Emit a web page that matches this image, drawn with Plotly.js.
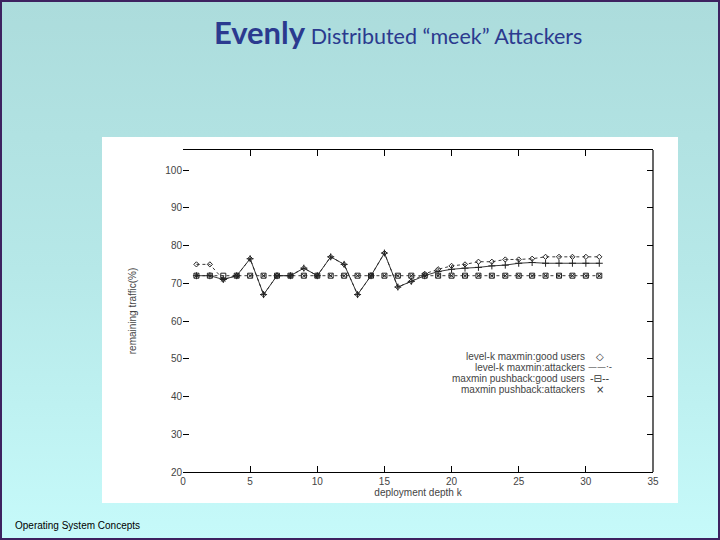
<!DOCTYPE html>
<html>
<head>
<meta charset="utf-8">
<script src="https://cdn.plot.ly/plotly-3.0.1.min.js"></script>
<style>
html,body{margin:0;padding:0;}
#wrap{width:720px;height:540px;box-sizing:border-box;border:2px solid #3d2260;
background:linear-gradient(to bottom,#acdcdc 0%,#b6e8e8 50%,#c6fafa 100%);position:relative;overflow:hidden;}
#chart{position:absolute;left:-2px;top:-2px;width:720px;height:540px;}
</style>
</head>
<body>
<div id="wrap"><div id="chart"></div></div>
<script>
const depth = [1,2,3,4,5,6,7,8,9,10,11,12,13,14,15,16,17,18,19,20,21,22,23,24,25,26,27,28,29,30,31];
const levelkGood = [75,75,71,72,76.5,67,72,72,74,72,77,75,67,72,78,69,70.5,72.5,73.7,74.6,75,75.7,75.7,76.3,76.3,76.5,77,77,77,77,77];
const levelkAttack = [72,72,71,72,76.5,67,72,72,74,72,77,75,67,72,78,69,70.5,72,73.1,73.7,74,74.2,74.6,74.8,75.3,75.5,75.3,75.3,75.3,75.3,75.3];
const pushbackGood = [72,72,72,72,72,72,72,72,72,72,72,72,72,72,72,72,72,72,72,72,72,72,72,72,72,72,72,72,72,72,72];
const pushbackAttack = [72,72,71,72,72,72,72,72,72,72,72,72,72,72,72,72,72,72,72,72,72,72,72,72,72,72,72,72,72,72,72];
const seriesNames = ['level-k maxmin:good users','level-k maxmin:attackers','maxmin pushback:good users','maxmin pushback:attackers'];
const legendSamples = ['◇','——·-','-⊟--','×'];
const xTicks = [0,5,10,15,20,25,30,35];
const yTicks = [20,30,40,50,60,70,80,90,100];

const ink = '#222';
const traces = [
  {x:depth,y:levelkGood,name:seriesNames[0],mode:'lines+markers',
   line:{color:ink,width:0.9,dash:'dot'},marker:{symbol:'diamond-open',size:4,color:ink,line:{width:1}}},
  {x:depth,y:levelkAttack,name:seriesNames[1],mode:'lines+markers',
   line:{color:ink,width:0.9},marker:{symbol:'cross-thin-open',size:5,color:ink,line:{width:1,color:ink}}},
  {x:depth,y:pushbackGood,name:seriesNames[2],mode:'lines+markers',
   line:{color:ink,width:0.9,dash:'3px,3px'},marker:{symbol:'square-open-dot',size:5,color:ink,line:{width:1}}},
  {x:depth,y:pushbackAttack,name:seriesNames[3],mode:'markers',
   marker:{symbol:'x-thin-open',size:4,color:ink,line:{width:1,color:ink}}}
];

const L=183,R=653,T=150,B=472;
const pw=R-L, ph=B-T;
const px = v => (v-L)/pw;
const py = v => (B-v)/ph;

const shapes = [
  {type:'rect',xref:'paper',yref:'paper',x0:px(102),x1:px(678),y0:py(503),y1:py(137),
   fillcolor:'#ffffff',line:{width:0},layer:'below'},
  {type:'line',xref:'paper',yref:'paper',x0:1,x1:1,y0:0,y1:1,line:{color:'#000',width:1.2}}
];

const legendY = [356,367,378,389];
const annotations = [];
for(let i=0;i<4;i++){
  annotations.push({xref:'paper',yref:'paper',x:px(587),y:py(legendY[i]),xanchor:'right',yanchor:'middle',
    text:seriesNames[i],showarrow:false,font:{family:'Liberation Sans, Arial',size:10,color:'#444'}});
  annotations.push({xref:'paper',yref:'paper',x:px(600),y:py(legendY[i]),xanchor:'center',yanchor:'middle',
    text:legendSamples[i],showarrow:false,font:{family:'DejaVu Sans',size:i===1?9:10,color:'#333'}});
}
annotations.push({xref:'paper',yref:'paper',x:px(13),y:py(525),xanchor:'left',yanchor:'middle',
  text:'Operating System Concepts',showarrow:false,font:{family:'Liberation Sans, Arial',size:10,color:'#000'}});

const layout = {
  width:720,height:540,
  margin:{l:L,r:720-R,t:T,b:540-B,pad:0},
  paper_bgcolor:'rgba(0,0,0,0)',plot_bgcolor:'#ffffff',
  showlegend:false,
  title:{text:'<b style="font-size:31px">Evenly</b> Distributed “meek” Attackers',
    xref:'container',yref:'container',x:0.553,y:0.933,xanchor:'center',yanchor:'middle',
    font:{family:'Lato, Noto Sans',size:21.5,color:'#2b3a8f'}},
  xaxis:{range:[0,35],tickvals:xTicks,ticks:'inside',ticklen:6,tickcolor:'#000',
    showline:true,linecolor:'#000',linewidth:1.2,mirror:'ticks',showgrid:false,zeroline:false,
    tickfont:{family:'Liberation Sans, Arial',size:10,color:'#444'},
    title:{text:'deployment depth k',standoff:2,font:{family:'Liberation Sans, Arial',size:10,color:'#444'}}},
  yaxis:{range:[20,105.3],tickvals:yTicks,ticks:'inside',ticklen:6,tickcolor:'#000',
    showline:false,mirror:'ticks',showgrid:false,zeroline:false,
    tickfont:{family:'Liberation Sans, Arial',size:10,color:'#444'},
    title:{text:'remaining traffic(%)',standoff:26,font:{family:'Liberation Sans, Arial',size:10,color:'#444'}}},
  shapes:shapes,annotations:annotations
};
Plotly.newPlot('chart',traces,layout,{displayModeBar:false,staticPlot:true});
</script>
</body>
</html>
